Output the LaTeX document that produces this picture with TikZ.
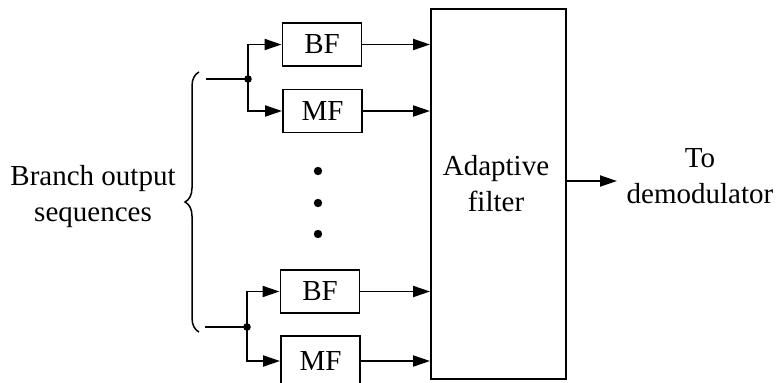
\documentclass[tikz,border=0pt]{standalone}
\usepackage{fontspec}
\setmainfont{Liberation Serif}
\usetikzlibrary{arrows.meta,decorations.pathreplacing}
\begin{document}
\begin{tikzpicture}[x=1pt,y=-1pt,
  line width=1.9pt,
  every node/.style={font=\fontsize{29}{36}\selectfont},
  fbox/.style={draw, minimum width=79pt, minimum height=43pt, inner sep=0pt},
  arr/.style={-{Triangle[length=17pt,width=11pt]}},
  txt/.style={align=center, inner sep=0pt},
  jdot/.style={fill=black}]
\useasboundingbox (0,0) rectangle (777,383);
\clip (0,0) rectangle (777,383);
% filter boxes
\node[fbox] (bf1) at (322,44.5) {BF};
\node[fbox] (mf1) at (322.5,111) {MF};
\node[fbox] (bf2) at (320,291.5) {BF};
\node[fbox, minimum height=50pt] (mf2) at (320.5,361) {MF};
% adaptive filter
\node[draw, minimum width=135pt, minimum height=370pt, inner sep=0pt] (af) at (498.5,194) {};
\node[txt] (aft) at (496,183.5) {Adaptive\\filter};
% output
\node[txt] (todem) at (700,176) {To\\demodulator};
\coordinate (oend) at (617,181);
\draw[arr] (af.east |- oend) -- (oend);
% input label and brace
\node[txt] (branch) at (93,197) {Branch output\\sequences};
\draw[line width=1.5pt, decorate, decoration={brace, amplitude=14pt}] (199,332) -- (199,72);
% top branch pair
\coordinate (s1) at (206,79);
\coordinate (j1) at (248,79);
\draw (s1) -- (j1);
\draw[arr] (j1) |- (bf1.west);
\draw[arr] (j1) |- (mf1.west);
\fill[jdot] (j1) circle (3.8);
% bottom branch pair
\coordinate (s2) at (205,327);
\coordinate (j2) at (247,327);
\draw (s2) -- (j2);
\draw[arr] (j2) |- (bf2.west);
\draw[arr] (j2) |- (mf2.west);
\fill[jdot] (j2) circle (3.8);
% outputs into adaptive filter
\draw[arr] (bf1.east) -- (bf1.east -| af.west);
\draw[arr] (mf1.east) -- (mf1.east -| af.west);
\draw[arr] (bf2.east) -- (bf2.east -| af.west);
\draw[arr] (mf2.east) -- (mf2.east -| af.west);
% vertical dots
\coordinate (d1) at (318,171);
\coordinate (d2) at (318,203);
\coordinate (d3) at (318,234);
\fill[jdot] (d1) circle (4.2);
\fill[jdot] (d2) circle (4.2);
\fill[jdot] (d3) circle (4.2);
\end{tikzpicture}
\end{document}
